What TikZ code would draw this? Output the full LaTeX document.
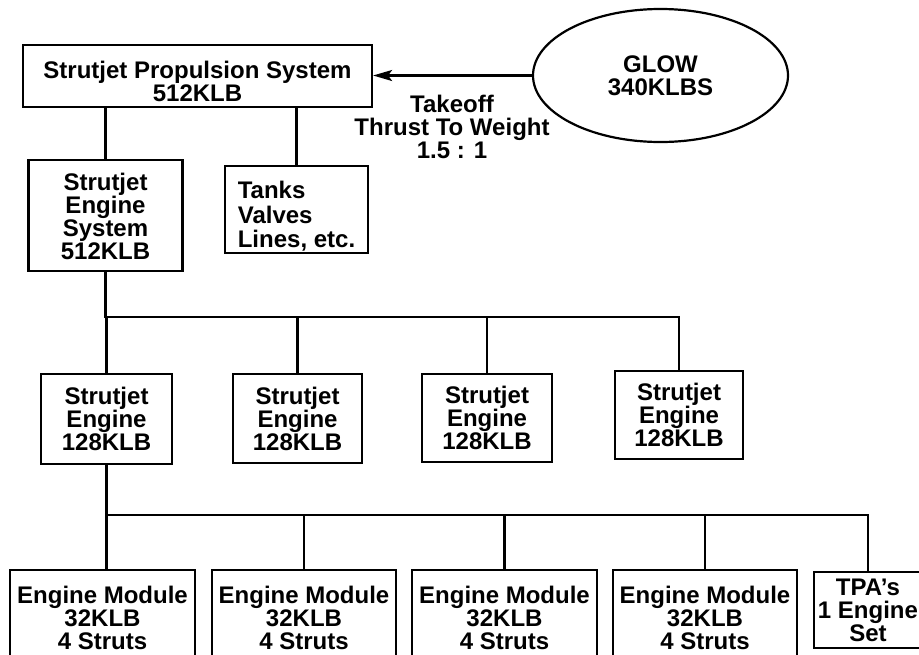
\documentclass[tikz,border=0pt]{standalone}
\usepackage{fontspec}
\setmainfont{Liberation Sans}
\usetikzlibrary{arrows.meta,shapes.geometric}
\begin{document}
\begin{tikzpicture}[x=1pt,y=-1pt,
  lbl/.style={font=\fontsize{24}{23}\selectfont\bfseries, align=center},
  box/.style={draw, line width=2.2pt, inner sep=0pt, lbl},
  conn/.style={line width=2.2pt}]
\useasboundingbox (0,0) rectangle (919,654);
\clip (0,0) rectangle (919,654);
% top level
\node[box, minimum width=349pt, minimum height=62pt] (prop) at (197.5,76) {\rule{0pt}{27.5pt}Strutjet Propulsion System\\512KLB};
\node[ellipse, draw, line width=2.2pt, lbl, minimum width=255pt, minimum height=133pt, inner sep=0pt] (glow) at (660.5,75.5) {GLOW\\340KLBS};
\node[lbl] (tw) at (452,127) {Takeoff\\Thrust To Weight\\1.5 : 1};
% second level
\node[box, minimum width=154pt, minimum height=111pt] (ensys) at (105.5,215.5) {\rule{0pt}{19.5pt}Strutjet\\Engine\\System\\512KLB};
\node[box, minimum width=143pt, minimum height=87pt, align=left, font=\fontsize{24}{24.5}\selectfont\bfseries] (tanks) at (296.5,209.5) {\rule{0pt}{31pt}Tanks\\Valves\\Lines, etc.};
% engines
\node[box, minimum width=131pt, minimum height=90pt] (eng1) at (106.5,419) {Strutjet\\Engine\\128KLB};
\node[box, minimum width=129pt, minimum height=89pt] (eng2) at (297.5,418.5) {Strutjet\\Engine\\128KLB};
\node[box, minimum width=130pt, minimum height=88pt] (eng3) at (487,418) {Strutjet\\Engine\\128KLB};
\node[box, minimum width=128pt, minimum height=88pt] (eng4) at (679,415) {Strutjet\\Engine\\128KLB};
% modules
\node[box, minimum width=185pt, minimum height=95pt] (mod1) at (102.5,617.5) {Engine Module\\32KLB\\4 Struts};
\node[box, minimum width=184pt, minimum height=95pt] (mod2) at (304,617.5) {Engine Module\\32KLB\\4 Struts};
\node[box, minimum width=185pt, minimum height=95pt] (mod3) at (504.5,617.5) {Engine Module\\32KLB\\4 Struts};
\node[box, minimum width=184pt, minimum height=95pt] (mod4) at (705,617.5) {Engine Module\\32KLB\\4 Struts};
\node[box, minimum width=108pt, minimum height=76pt] (tpa) at (868,610) {TPA{\char"27}s\\1 Engine\\Set};
% connectors
\draw[conn, -{Stealth[length=19pt,width=11pt,inset=4pt]}] (glow.west) -- (glow.west -| prop.east);
\draw[conn] (ensys.north) -- (ensys.north |- prop.south);
\draw[conn] (tanks.north) -- (tanks.north |- prop.south);
\coordinate (bus1) at (107,317);
\draw[conn] (ensys.south) -- (ensys.south |- bus1) -- (eng4.north |- bus1) -- (eng4.north);
\draw[conn] (eng1.north) -- (eng1.north |- bus1);
\draw[conn] (eng2.north) -- (eng2.north |- bus1);
\draw[conn] (eng3.north) -- (eng3.north |- bus1);
\coordinate (bus2) at (109,515);
\draw[conn] (eng1.south) -- (eng1.south |- mod1.north);
\draw[conn] (eng1.south |- bus2) -- (tpa.north |- bus2) -- (tpa.north);
\draw[conn] (mod2.north) -- (mod2.north |- bus2);
\draw[conn] (mod3.north) -- (mod3.north |- bus2);
\draw[conn] (mod4.north) -- (mod4.north |- bus2);
\end{tikzpicture}
\end{document}
